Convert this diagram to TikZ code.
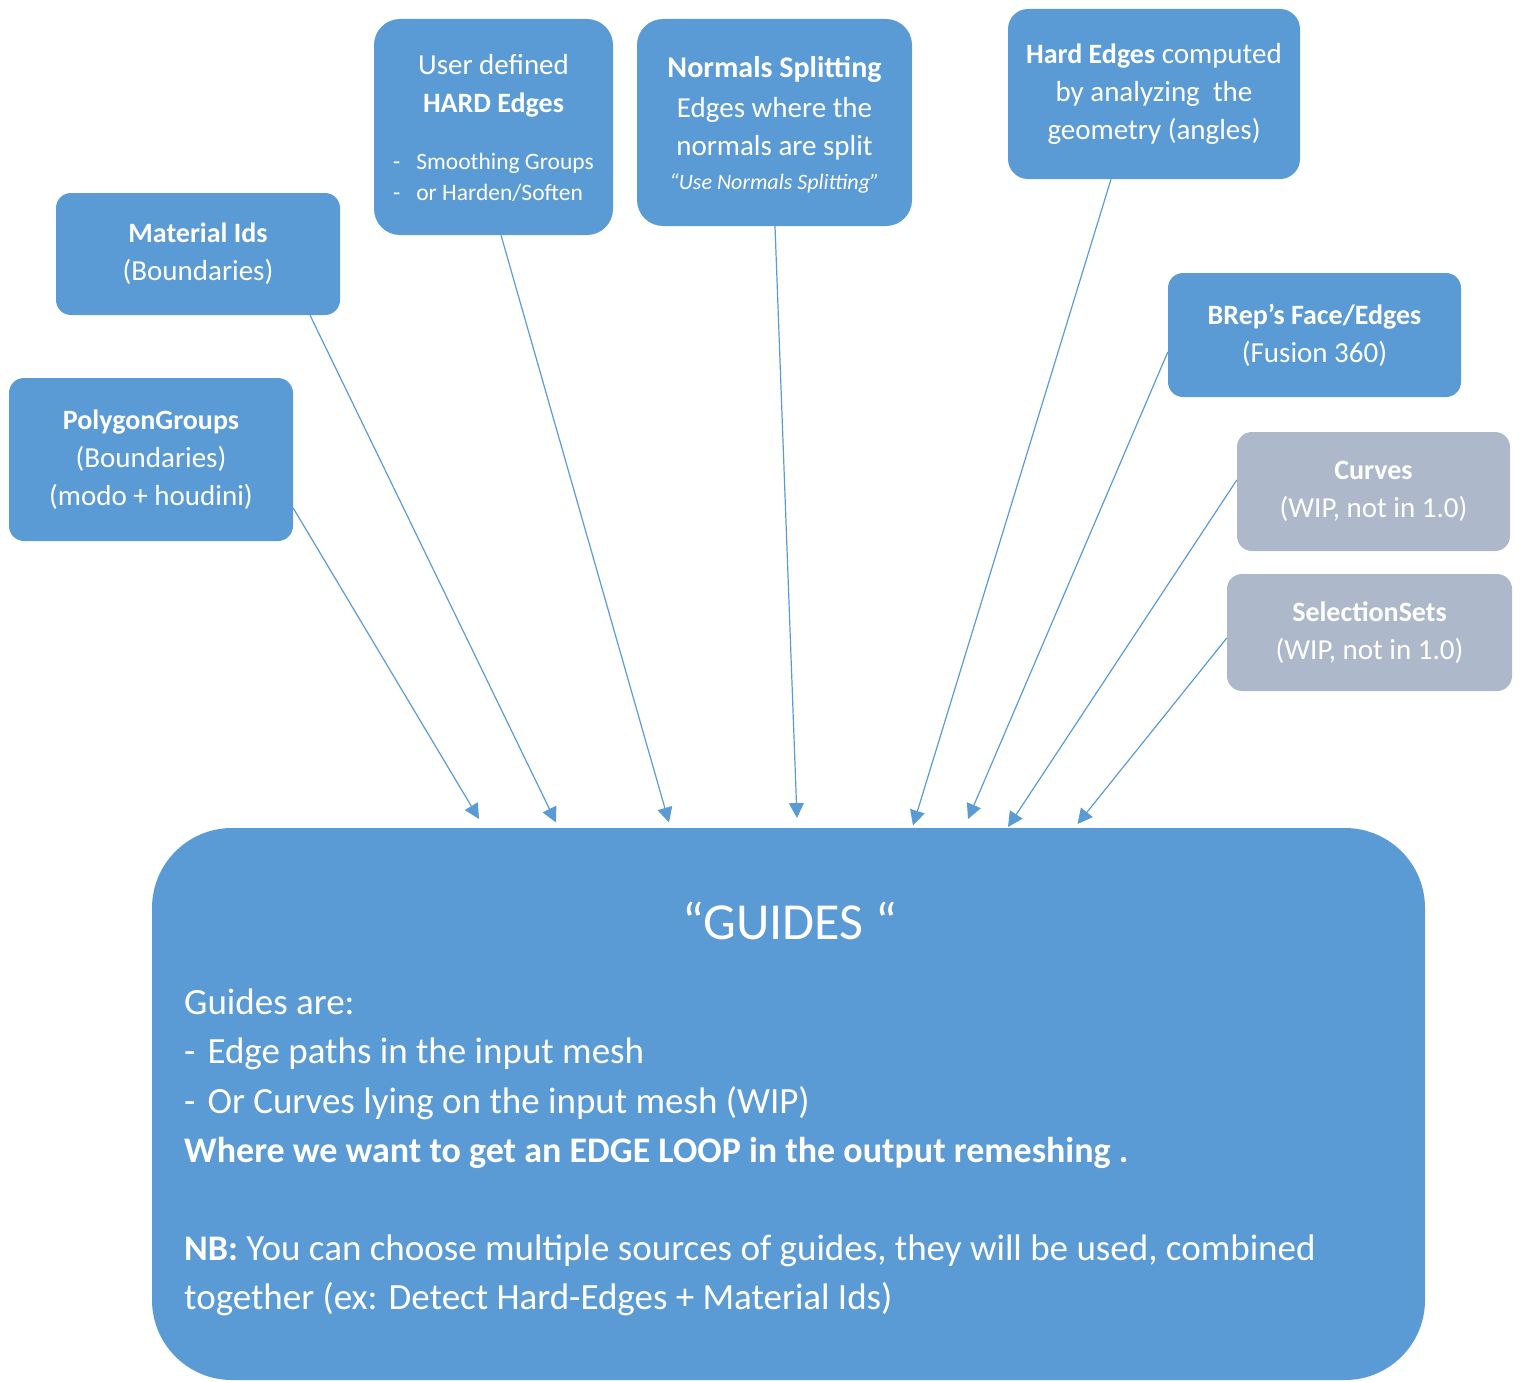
\documentclass[tikz,border=0pt]{standalone}
\usepackage{fontspec}
\setmainfont{Carlito}
\usetikzlibrary{arrows.meta,calc}
\definecolor{boxblue}{HTML}{5B9BD5}
\definecolor{boxgray}{HTML}{ADB9CA}
\newcommand{\hdb}[1]{{\fontsize{28}{38}\selectfont\bfseries #1}}
\begin{document}
\begin{tikzpicture}[x=1pt,y=-1pt,
  box/.style={draw=none, fill=boxblue, text=white, rounded corners=15pt, inner sep=0pt,
    align=center, font=\fontsize{29}{38}\selectfont},
  graybox/.style={box, fill=boxgray},
  bodyline/.style={anchor=base west, inner sep=0pt, text=white, font=\fontsize{37}{49}\selectfont},
  conn/.style={draw=boxblue, line width=1.2pt, -{Triangle[length=15pt,width=15pt]}}]
\useasboundingbox (0,0) rectangle (1525,1381);

% source boxes
\node[box, minimum width=284pt, minimum height=163pt] (poly) at (151,459.5)
  {\hdb{PolygonGroups}\\(Boundaries)\\(modo + houdini)};
\node[box, minimum width=284pt, minimum height=122pt] (mat) at (198,254)
  {\hdb{Material Ids}\\(Boundaries)};
\node[box, rounded corners=26pt, minimum width=239pt, minimum height=216pt] (user) at (493.5,127)
  {\rule{0pt}{30pt}User defined\\\hdb{HARD Edges}\\[30pt]{\fontsize{23.5}{31}\selectfont\begin{tabular}{@{}l@{\hspace{16pt}}l@{}}-&Smoothing Groups\\-&or Harden/Soften\end{tabular}}};
\node[box, rounded corners=26pt, minimum width=275pt, minimum height=207pt] (norm) at (774.5,122.5)
  {\rule{0pt}{25pt}{\fontsize{30}{38}\selectfont\bfseries Normals Splitting}\\[2pt]Edges where the\\normals are split\\[-4pt]{\fontsize{22}{34}\selectfont\itshape “Use Normals Splitting”}};
\node[box, rounded corners=20pt, minimum width=292pt, minimum height=170pt] (hardc) at (1154,94)
  {\hdb{Hard Edges} computed\\by analyzing~ the\\geometry (angles)};
\node[box, minimum width=293pt, minimum height=124pt] (brep) at (1314.5,335)
  {\hdb{BRep’s Face/Edges}\\(Fusion 360)};
\node[graybox, minimum width=273pt, minimum height=119pt] (curves) at (1373.5,491.5)
  {\hdb{Curves}\\(WIP, not in 1.0)};
\node[graybox, minimum width=285pt, minimum height=117pt] (sel) at (1369.5,632.5)
  {\hdb{SelectionSets}\\(WIP, not in 1.0)};

% main box
\node[box, rounded corners=80pt, minimum width=1273pt, minimum height=552pt] (guides) at (788.5,1104) {};
\node[text=white, inner sep=0pt, font=\fontsize{52}{60}\selectfont] (title) at (790,921) {“GUIDES “};
\node[bodyline] (l1) at (184,1014) {Guides are:};
\node[bodyline] (l2) at (184,1063) {-\hspace{12pt}Edge paths in the input mesh};
\node[bodyline] (l3) at (184,1113) {-\hspace{12pt}Or Curves lying on the input mesh (WIP)};
\node[bodyline] (l4) at (184,1162) {{\fontsize{36}{49}\selectfont\bfseries Where we want to get an EDGE LOOP in the output remeshing .}};
\node[bodyline] (l5) at (184,1260) {{\fontsize{36}{49}\selectfont\bfseries NB:} You can choose multiple sources of guides, they will be used, combined};
\node[bodyline] (l6) at (184,1309) {together (ex: Detect Hard-Edges + Material Ids)};

% arrow targets
\coordinate (t1) at (479,819);
\coordinate (t2) at (556,822.5);
\coordinate (t3) at (669,822.5);
\coordinate (t4) at (797,818);
\coordinate (t5) at (913,825.5);
\coordinate (t6) at (968,819);
\coordinate (t7) at (1008,827);
\coordinate (t8) at (1077.5,824);

\draw[conn] ($(poly.east)+(0,48.5)$) -- (t1);
\draw[conn] ($(mat.south)+(112,0)$) -- (t2);
\draw[conn] ($(user.south)+(7.5,0)$) -- (t3);
\draw[conn] ($(norm.south)+(0.5,0)$) -- (t4);
\draw[conn] ($(hardc.south)+(-43,0)$) -- (t5);
\draw[conn] ($(brep.west)+(0,17)$) -- (t6);
\draw[conn] ($(curves.west)+(0,-11.5)$) -- (t7);
\draw[conn] ($(sel.west)+(0,5.5)$) -- (t8);
\end{tikzpicture}
\end{document}
